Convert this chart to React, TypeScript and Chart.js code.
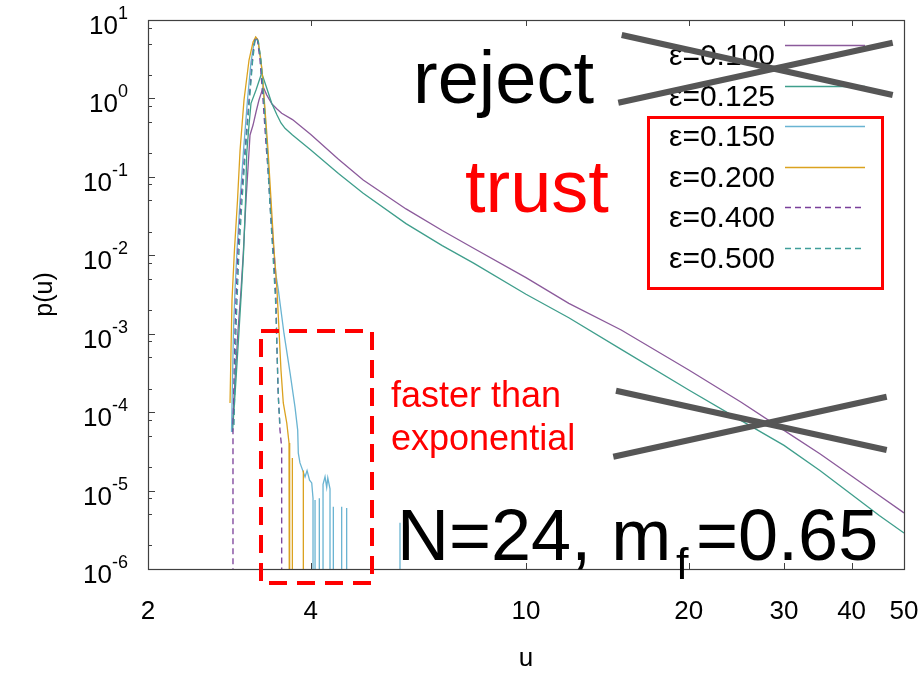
import React, { useEffect, useRef } from "react";
import { Chart, registerables } from "chart.js";

Chart.register(...registerables);

const FONT = '"Liberation Sans", Arial, Helvetica, sans-serif';

// ---------- data ----------
const seriesLabels = ["ε=0.100", "ε=0.125", "ε=0.150", "ε=0.200", "ε=0.400", "ε=0.500"];
const seriesColors = ["#8b5a9b", "#3f9e8c", "#6ab4d2", "#dba21f", "#7a3f9a", "#3f9e9a"];
const seriesDashed = [false, false, false, false, true, true];

const xTickValues = [2, 4, 10, 20, 30, 40, 50];
const yTickExponents = [-6, -5, -4, -3, -2, -1, 0, 1];
const yMinorMultipliers = [2, 5, 8];

// eps = 0.100
const u100 = [2.86, 2.897, 2.934, 2.972, 3.001, 3.036, 3.068, 3.088, 3.128, 3.168, 3.208, 3.267, 3.315, 3.391, 3.464, 3.534, 3.7, 4, 4.5, 5, 6, 7, 8, 10, 12, 15, 20, 25, 30, 35, 40, 45, 50];
const p100 = [5.6e-5, 2.6e-4, 1.1e-3, 3.6e-3, 0.0107, 0.0507, 0.164, 0.342, 0.458, 0.671, 0.955, 1.4, 1.11, 0.849, 0.733, 0.646, 0.537, 0.346, 0.1675, 0.0914, 0.039, 0.0207, 0.0123, 0.00519, 0.00244, 1.115e-3, 3.45e-4, 1.34e-4, 5.85e-5, 2.92e-5, 1.53e-5, 8.66e-6, 5.2e-6];

// eps = 0.125
const u125 = [2.866, 2.909, 2.947, 2.978, 3.004, 3.03, 3.045, 3.075, 3.101, 3.168, 3.245, 3.306, 3.387, 3.464, 3.523, 3.584, 3.7, 4, 4.5, 5, 6, 7, 8, 10, 12, 15, 20, 25, 30, 35, 40, 45, 50];
const p125 = [5.6e-5, 2.6e-4, 1.1e-3, 3.6e-3, 0.0107, 0.0507, 0.2, 0.458, 0.867, 1.28, 2.11, 1.44, 0.867, 0.615, 0.486, 0.416, 0.342, 0.22, 0.1104, 0.0619, 0.02536, 0.01329, 0.00793, 0.00318, 0.001596, 6.31e-4, 1.916e-4, 7.8e-5, 3.77e-5, 1.79e-5, 8.89e-6, 4.81e-6, 2.88e-6];

// eps = 0.150 (zeros = empty bins)
const u150 = [2.854, 2.866, 2.878, 2.897, 2.922, 2.96, 3.004, 3.055, 3.101, 3.141, 3.164, 3.195, 3.236, 3.278, 3.32, 3.362, 3.405, 3.449, 3.484, 3.569, 3.662, 3.74, 3.783, 3.793, 3.82, 3.875, 3.903, 3.937, 3.979, 4.016, 4.038, 4.038,
  4.073, 4.073, 4.073,
  4.148, 4.148, 4.148,
  4.214, 4.214, 4.25, 4.28, 4.3, 4.341, 4.341,
  4.403, 4.403, 4.403,
  4.562, 4.562, 4.562,
  4.66, 4.66, 4.66,
  5.848, 5.848, 5.848];
const p150 = [5.6e-5, 2.6e-4, 1.1e-3, 3.6e-3, 0.0117, 0.0507, 0.22, 0.955, 2.91, 5.09, 5.98, 5.32, 3.09, 0.955, 0.255, 0.0587, 0.0157, 5.6e-3, 3.6e-3, 1.0e-3, 3.16e-4, 1.16e-4, 5.9e-5, 3.0e-5, 2.25e-5, 1.72e-5, 1.49e-5, 1.8e-5, 1.36e-5, 1.25e-5, 8.0e-6, 0,
  0, 7.6e-6, 0,
  0, 8.0e-6, 0,
  0, 1.2e-5, 1.5e-5, 1.1e-5, 1.45e-5, 1.05e-5, 0,
  0, 6.2e-6, 0,
  0, 6.2e-6, 0,
  0, 6.0e-6, 0,
  0, 3.9e-6, 0];

// eps = 0.200
const u200 = [2.836, 2.848, 2.86, 2.89, 2.928, 2.96, 3.01, 3.075, 3.128, 3.164, 3.195, 3.25, 3.292, 3.334, 3.377, 3.42, 3.464, 3.494, 3.523, 3.558, 3.611, 3.646, 3.656, 3.656, 3.698, 3.698, 3.698, 3.875, 3.875, 3.875];
const p200 = [1.31e-4, 6.2e-4, 2.69e-3, 0.0117, 0.0507, 0.22, 0.955, 3.09, 5.24, 6.07, 5.56, 2.3, 0.712, 0.22, 0.0507, 0.0117, 3.6e-3, 1.1e-3, 3.45e-4, 1.31e-4, 7.27e-5, 4.04e-5, 2.68e-5, 0, 0, 2.6e-5, 0, 0, 1.8e-5, 0];

// eps = 0.400
const u400 = [2.872, 2.872, 2.884, 2.897, 2.909, 2.934, 2.972, 3.023, 3.075, 3.114, 3.141, 3.164, 3.188, 3.222, 3.264, 3.306, 3.334, 3.377, 3.42, 3.449, 3.464, 3.479, 3.508, 3.534, 3.534];
const p400 = [0, 5.58e-5, 2.57e-4, 1.115e-3, 2.69e-3, 0.01168, 0.0507, 0.22, 0.955, 2.67, 4.8, 6.07, 5.56, 3.09, 0.955, 0.255, 0.1224, 0.0282, 8.71e-3, 2.69e-3, 6.2e-4, 1.92e-4, 5.92e-5, 3.49e-5, 0];

// eps = 0.500
const u500 = [2.884, 2.897, 2.909, 2.922, 2.947, 2.985, 3.03, 3.081, 3.121, 3.154, 3.168, 3.201, 3.236, 3.278, 3.32, 3.362, 3.405, 3.442, 3.464, 3.486, 3.508];
const p500 = [6.86e-5, 2.57e-4, 1.115e-3, 2.69e-3, 0.01168, 0.0507, 0.22, 0.955, 2.91, 5.56, 5.98, 5.24, 2.91, 0.874, 0.22, 0.0438, 0.01, 2.69e-3, 6.2e-4, 1.43e-4, 6.86e-5];

const seriesU = [u100, u125, u150, u200, u400, u500];
const seriesP = [p100, p125, p150, p200, p400, p500];

// value used to draw an empty bin on the log axis (below the axis floor)
const ZERO_FLOOR = 1e-9;

// ---------- layout / annotation styling ----------
const RED = "#ff0000";
const CROSS = "#565656";

const overlayPlugin = {
  id: "overlay",
  afterDatasetsDraw(chart: any) {
    const { ctx, chartArea: a, scales } = chart;
    const xs = scales.x;
    const ys = scales.y;
    ctx.save();

    // frame
    ctx.strokeStyle = "#404040";
    ctx.lineWidth = 1.2;
    ctx.setLineDash([]);
    ctx.strokeRect(Math.round(a.left) + 0.5, Math.round(a.top) + 0.5, Math.round(a.right - a.left), Math.round(a.bottom - a.top));

    // inward ticks
    ctx.lineWidth = 1;
    ctx.beginPath();
    for (const e of yTickExponents) {
      const py = Math.round(ys.getPixelForValue(Math.pow(10, e))) + 0.5;
      ctx.moveTo(a.left, py);
      ctx.lineTo(a.left + 7, py);
      if (e < 1) {
        for (const m of yMinorMultipliers) {
          const pm = Math.round(ys.getPixelForValue(m * Math.pow(10, e))) + 0.5;
          ctx.moveTo(a.left, pm);
          ctx.lineTo(a.left + 4, pm);
        }
      }
    }
    for (const v of xTickValues) {
      const px = Math.round(xs.getPixelForValue(v)) + 0.5;
      if (px <= a.left + 1 || px >= a.right - 1) continue;
      ctx.moveTo(px, a.bottom);
      ctx.lineTo(px, a.bottom - 6);
      ctx.moveTo(px, a.top);
      ctx.lineTo(px, a.top + 6);
    }
    ctx.stroke();

    // y tick labels 10^n
    ctx.fillStyle = "#000";
    ctx.textBaseline = "alphabetic";
    ctx.textAlign = "left";
    const baseFont = `26px ${FONT}`;
    const supFont = `18px ${FONT}`;
    const labelRight = 128;
    for (const e of yTickExponents) {
      const py = ys.getPixelForValue(Math.pow(10, e));
      const sup = String(e);
      ctx.font = supFont;
      const ws = ctx.measureText(sup).width;
      ctx.font = baseFont;
      const wb = ctx.measureText("10").width;
      ctx.fillText("10", labelRight - ws - wb, py + 14);
      ctx.font = supFont;
      ctx.fillText(sup, labelRight - ws, py - 1);
    }

    // legend (gnuplot style: text then sample line)
    const ds = chart.data.datasets;
    ctx.font = `30px ${FONT}`;
    ctx.textAlign = "right";
    for (let i = 0; i < ds.length; i++) {
      const ty = 65 + 40.6 * i;
      const ly = Math.round(45 + 40.6 * i) + 0.5;
      ctx.fillStyle = "#000";
      ctx.fillText(ds[i].label, 775, ty);
      ctx.strokeStyle = ds[i].borderColor;
      ctx.lineWidth = 1.3;
      ctx.setLineDash(ds[i].borderDash || []);
      ctx.beginPath();
      ctx.moveTo(785, ly);
      ctx.lineTo(865, ly);
      ctx.stroke();
    }
    ctx.setLineDash([]);

    // annotation texts
    ctx.textAlign = "left";
    ctx.fillStyle = "#000";
    ctx.font = `74px ${FONT}`;
    ctx.fillText("reject", 413, 103);
    ctx.fillStyle = RED;
    ctx.fillText("trust", 465, 212);
    ctx.font = `36px ${FONT}`;
    ctx.fillText("faster than", 391, 407);
    ctx.fillText("exponential", 391, 450);
    ctx.fillStyle = "#000";
    ctx.font = `72px ${FONT}`;
    ctx.fillText("N=24, m", 397, 560);
    ctx.font = `45px ${FONT}`;
    ctx.fillText("f", 676, 579);
    ctx.font = `72px ${FONT}`;
    ctx.fillText("=0.65", 696, 560);

    // red boxes
    ctx.strokeStyle = RED;
    ctx.lineWidth = 4;
    ctx.setLineDash([18, 10]);
    ctx.strokeRect(261, 331, 111, 252);
    ctx.setLineDash([]);
    ctx.lineWidth = 3;
    ctx.strokeRect(648.5, 117.5, 234, 171);

    // grey crosses
    ctx.strokeStyle = CROSS;
    ctx.lineWidth = 6;
    const seg = (x1: number, y1: number, x2: number, y2: number) => {
      ctx.beginPath();
      ctx.moveTo(x1, y1);
      ctx.lineTo(x2, y2);
      ctx.stroke();
    };
    seg(621.7, 35, 892.7, 95);
    seg(618.3, 102.7, 892.7, 42.7);
    seg(616, 390.7, 886.7, 450);
    seg(613.3, 456.7, 886.7, 396.7);

    ctx.restore();
  },
};

export default function App() {
  const ref = useRef<HTMLCanvasElement | null>(null);

  useEffect(() => {
    if (!ref.current) return;
    const datasets = seriesLabels.map((label, i) => ({
      label,
      data: seriesU[i].map((u, k) => ({ x: u, y: seriesP[i][k] > 0 ? seriesP[i][k] : ZERO_FLOOR })),
      borderColor: seriesColors[i],
      backgroundColor: seriesColors[i],
      borderWidth: 1.3,
      borderDash: seriesDashed[i] ? [6, 4] : [],
      pointRadius: 0,
      showLine: true,
      fill: false,
      tension: 0,
      order: seriesLabels.length - i,
    }));

    const chart = new Chart(ref.current, {
      type: "scatter",
      data: { datasets },
      options: {
        responsive: false,
        animation: false,
        devicePixelRatio: 1,
        events: [],
        layout: { padding: { left: 0, right: 20, top: 20, bottom: 0 } },
        plugins: {
          legend: { display: false },
          tooltip: { enabled: false },
        },
        scales: {
          x: {
            type: "logarithmic",
            position: "bottom",
            min: 2,
            max: 50,
            afterBuildTicks: (s: any) => {
              s.ticks = xTickValues.map((v) => ({ value: v }));
            },
            afterFit: (s: any) => {
              s.height = 111;
            },
            grid: { display: false, drawTicks: true, tickLength: 27 },
            border: { display: false },
            ticks: {
              autoSkip: false,
              maxRotation: 0,
              minRotation: 0,
              padding: 0,
              color: "#000",
              font: { family: FONT, size: 26 },
              callback: (v: any) => String(v),
            },
            title: {
              display: true,
              text: "u",
              color: "#000",
              font: { family: FONT, size: 26 },
              padding: { top: 0, bottom: 6 },
            },
          },
          y: {
            type: "logarithmic",
            position: "left",
            min: 1e-6,
            max: 10,
            afterBuildTicks: (s: any) => {
              s.ticks = yTickExponents.map((e) => ({ value: Math.pow(10, e) }));
            },
            afterFit: (s: any) => {
              s.width = 148;
            },
            grid: { display: false, drawTicks: false },
            border: { display: false },
            ticks: { display: false },
            title: {
              display: true,
              text: "p(u)",
              color: "#000",
              font: { family: FONT, size: 25 },
              padding: { top: 30, bottom: 0 },
            },
          },
        },
      } as any,
      plugins: [overlayPlugin],
    });
    return () => chart.destroy();
  }, []);

  return (
    <div style={{ position: "absolute", left: 0, top: 0, width: 924, height: 680, background: "#fff" }}>
      <canvas ref={ref} width={924} height={680} style={{ display: "block", width: 924, height: 680 }} />
    </div>
  );
}
